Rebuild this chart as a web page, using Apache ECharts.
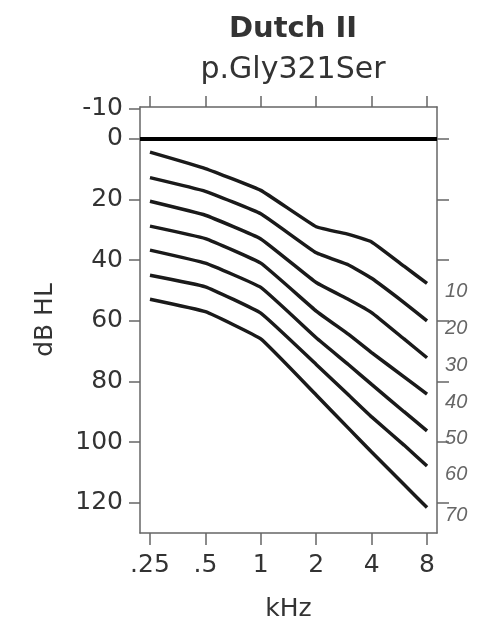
<!DOCTYPE html>
<html>
<head>
<meta charset="utf-8">
<script src="https://cdn.jsdelivr.net/npm/echarts@6/dist/echarts.min.js"></script>
<style>
html, body { margin: 0; padding: 0; background: #fff; }
#main { width: 482px; height: 619px; }
</style>
</head>
<body>
<div id="main"></div>
<script>
// frequencies (kHz) and thresholds (dB HL) per age curve
var freqs = [0.25, 0.5, 1, 2, 3, 4, 6, 8];
var tickFreqs = [0.25, 0.5, 1, 2, 4, 8];
var tickNames = ['.25', '.5', '1', '2', '4', '8'];
var dbTicks = [-10, 0, 20, 40, 60, 80, 100, 120];
var ages = ['10', '20', '30', '40', '50', '60', '70'];

var age10 = [4.4, 9.8, 17, 29, 31.5, 34, 42, 47.7];
var age20 = [12.8, 17.3, 24.7, 37.6, 41.6, 46, 54, 60];
var age30 = [20.6, 25.2, 33, 47.4, 53, 57.3, 66, 72.2];
var age40 = [28.8, 32.9, 41, 56.8, 64.5, 70.5, 78.5, 84.2];
var age50 = [36.7, 41, 49, 65.6, 74.5, 81, 90, 96.3];
var age60 = [45, 48.8, 57.5, 74.4, 84.5, 91.7, 101, 107.9];
var age70 = [52.9, 57, 66, 84.5, 95.5, 103.3, 114, 121.6];

var curves = [age10, age20, age30, age40, age50, age60, age70];

function oct(f) { return Math.log2(f); }

var chart = echarts.init(document.getElementById('main'));
var axisColor = '#666';
var font = 'DejaVu Sans';

var series = curves.map(function (vals, i) {
    return {
        name: ages[i],
        type: 'line',
        showSymbol: false,
        smooth: 0.1,
        data: vals.map(function (v, j) { return [oct(freqs[j]), v]; }),
        lineStyle: { color: '#1a1a1a', width: 3.5 },
        endLabel: {
            show: true,
            formatter: '{a}',
            offset: [10, 8],
            fontFamily: 'Liberation Sans',
            fontStyle: 'italic',
            fontSize: 20,
            color: '#666'
        }
    };
});

// thick line at 0 dB
series[0].markLine = {
    silent: true,
    symbol: 'none',
    label: { show: false },
    lineStyle: { color: '#000', width: 4, type: 'solid' },
    data: [{ yAxis: 0 }]
};

var option = {
    animation: false,
    title: [
        {
            text: 'Dutch II', left: 288, top: 10, textAlign: 'center',
            textStyle: { fontFamily: font, fontWeight: 'bold', fontSize: 29, color: '#333' }
        },
        {
            text: 'p.Gly321Ser', left: 288, top: 50, textAlign: 'center',
            textStyle: { fontFamily: font, fontWeight: 'normal', fontSize: 30, color: '#333' }
        }
    ],
    grid: { left: 140, right: 45, top: 107, bottom: 86, containLabel: false, outerBoundsMode: 'none' },
    xAxis: [
        {
            type: 'value', position: 'bottom',
            min: oct(0.25) - 0.18, max: oct(8) + 0.18,
            name: 'kHz', nameLocation: 'middle', nameGap: 64,
            nameTextStyle: { fontFamily: font, fontSize: 25, color: '#333' },
            axisLine: { onZero: false, lineStyle: { color: axisColor, width: 1.5 } },
            axisTick: { length: 12, lineStyle: { color: axisColor, width: 1.5 }, customValues: tickFreqs.map(oct) },
            axisLabel: {
                customValues: tickFreqs.map(oct), margin: 20,
                fontFamily: font, fontSize: 25, color: '#333',
                formatter: function (v) {
                    var k = tickFreqs.map(oct).findIndex(function (t) { return Math.abs(t - v) < 1e-6; });
                    return k >= 0 ? tickNames[k] : '';
                }
            },
            splitLine: { show: false }
        },
        {
            type: 'value', position: 'top',
            min: oct(0.25) - 0.18, max: oct(8) + 0.18,
            axisLine: { onZero: false, lineStyle: { color: axisColor, width: 1.5 } },
            axisTick: { length: 11, lineStyle: { color: axisColor, width: 1.5 }, customValues: tickFreqs.map(oct) },
            axisLabel: { show: false },
            splitLine: { show: false }
        }
    ],
    yAxis: [
        {
            type: 'value', position: 'left', inverse: true,
            min: -10.5, max: 130,
            name: 'dB HL', nameLocation: 'middle', nameGap: 82, nameRotate: 90,
            nameTextStyle: { fontFamily: font, fontSize: 25, color: '#333' },
            axisLine: { show: true, onZero: false, lineStyle: { color: axisColor, width: 1.5 } },
            axisTick: { show: true, length: 11, lineStyle: { color: axisColor, width: 1.5 }, customValues: dbTicks },
            axisLabel: { customValues: dbTicks, margin: 17, fontFamily: font, fontSize: 25, color: '#333' },
            splitLine: { show: false }
        },
        {
            type: 'value', position: 'right', inverse: true,
            min: -10.5, max: 130,
            axisLine: { show: true, onZero: false, lineStyle: { color: axisColor, width: 1.5 } },
            axisTick: { show: true, length: 12, lineStyle: { color: axisColor, width: 1.5 }, customValues: dbTicks.slice(1) },
            axisLabel: { show: false },
            splitLine: { show: false }
        }
    ],
    series: series
};

chart.setOption(option);
</script>
</body>
</html>
